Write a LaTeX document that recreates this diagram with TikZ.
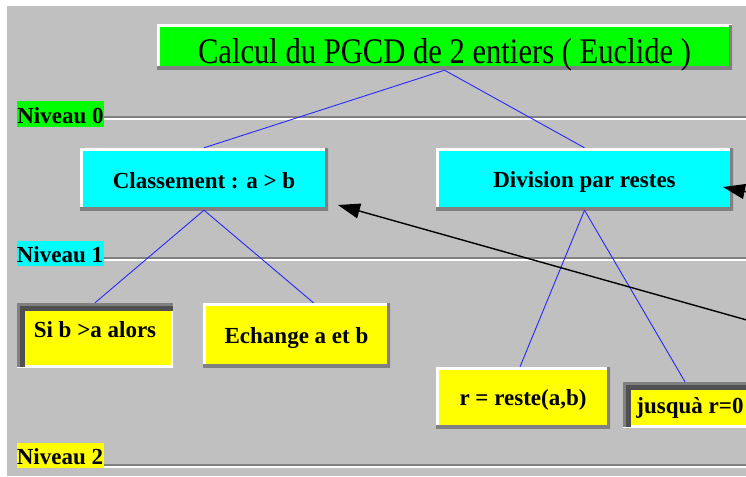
\documentclass[tikz,border=0pt]{standalone}
\usepackage{fontspec}
\setmainfont{Liberation Serif}
\usetikzlibrary{arrows.meta}
\definecolor{bgc}{HTML}{C0C0C0}
\definecolor{shadowc}{HTML}{808080}
\definecolor{darkc}{HTML}{505050}
\definecolor{greenc}{HTML}{00FF00}
\definecolor{cyanc}{HTML}{00FFFF}
\definecolor{yellowc}{HTML}{FFFF00}
\definecolor{bluec}{HTML}{2828FF}
\tikzset{
  boxtext/.style={font=\bfseries\fontsize{23}{23}\selectfont, inner sep=0pt, anchor=center},
  bl/.style={text height=#1, text depth=0pt},
  raised/.style={path picture={
    \draw[white,line width=5pt] (path picture bounding box.south west) -- (path picture bounding box.north west) -- (path picture bounding box.north east);
    \draw[shadowc,line width=7pt] (path picture bounding box.north east) -- (path picture bounding box.south east) -- (path picture bounding box.south west);}},
  sunken/.style={path picture={
    \draw[white,line width=5pt] (path picture bounding box.north east) -- (path picture bounding box.south east) -- (path picture bounding box.south west);
    \draw[darkc,line width=15pt] (path picture bounding box.south west) -- (path picture bounding box.north west) -- (path picture bounding box.north east);
    \draw[shadowc,line width=6pt] (path picture bounding box.south west) -- (path picture bounding box.north west) -- (path picture bounding box.north east);}},
  levellabel/.style={boxtext, minimum width=87pt, minimum height=25pt, bl=18pt},
  levelline/.style={shadowc, line width=1.3pt},
  levellight/.style={white, line width=1.3pt},
  conn/.style={bluec, line width=0.9pt},
  pointer/.style={black, line width=1.4pt, -{Triangle[length=22pt,width=15pt]}}
}
\begin{document}
\begin{tikzpicture}[x=1pt,y=-1pt]
\useasboundingbox (0,0) rectangle (746,476);
\clip (0,0) rectangle (746,476);
\fill[white] (0,0) rectangle (746,476);
\fill[bgc] (7,6) rectangle (746,476);

% level labels and lines
\node[levellabel, fill=greenc] (n0) at (60.5,114) {Niveau 0};
\node[levellabel, fill=cyanc] (n1) at (60,253.5) {Niveau 1};
\node[levellabel, fill=yellowc] (n2) at (60,455.5) {Niveau 2};
\draw[levelline] (n0.east |- 0,117) -- (746,117);
\draw[levellight] (n0.east |- 0,119) -- (746,119);
\draw[levelline] (n1.east |- 0,258) -- (746,258);
\draw[levellight] (n1.east |- 0,260) -- (746,260);
\draw[levelline] (n2.east |- 0,465) -- (746,465);
\draw[levellight] (n2.east |- 0,467) -- (746,467);

% boxes
\node[inner sep=0pt, fill=greenc, raised, minimum width=575pt, minimum height=45pt, text height=33pt, text depth=0pt] (title) at (444.5,47.5)
  {\scalebox{0.85}[1]{\fontsize{36}{36}\selectfont Calcul du PGCD de 2 entiers ( Euclide )}};
\node[boxtext, fill=cyanc, raised, minimum width=248pt, minimum height=62pt, bl=19pt] (cls) at (204,179) {Classement : a > b};
\node[boxtext, fill=cyanc, raised, minimum width=297pt, minimum height=62pt, bl=16pt] (div) at (584.5,179) {Division par restes};
\node[boxtext, fill=yellowc, sunken, minimum width=156pt, minimum height=64pt, bl=4pt] (si) at (95,335) {Si b >a alors};
\node[boxtext, fill=yellowc, raised, minimum width=187pt, minimum height=64pt, bl=16pt] (ech) at (296.5,335) {Echange a et b};
\node[boxtext, fill=yellowc, raised, minimum width=174pt, minimum height=61pt, bl=15pt] (rst) at (523,397.5) {r = reste(a,b)};
\node[boxtext, fill=yellowc, sunken, minimum width=134pt, minimum height=45pt, bl=17pt] (jus) at (690,404.5) {jusquà r=0};

% tree connectors
\draw[conn] (title.south) -- (cls.north);
\draw[conn] (title.south) -- (div.north);
\draw[conn] (cls.south) -- (si.north);
\draw[conn] (cls.south) -- ([xshift=17pt]ech.north);
\draw[conn] (div.south) -- ([xshift=-3pt]rst.north);
\draw[conn] (div.south) -- ([xshift=-5pt]jus.north);

% pointer arrows
\coordinate (src1) at (800,335);
\coordinate (tip1) at (338,205);
\coordinate (src2) at (800,203);
\coordinate (tip2) at (723,187);
\draw[pointer] (src1) -- (tip1);
\draw[pointer] (src2) -- (tip2);
\end{tikzpicture}
\end{document}
